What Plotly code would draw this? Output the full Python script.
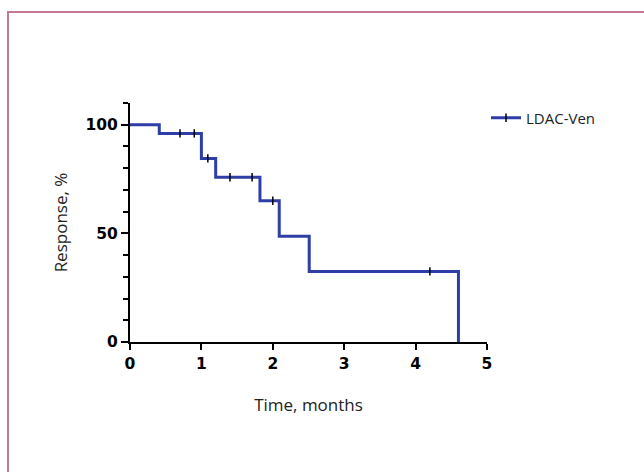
import plotly.graph_objects as go

# Kaplan-Meier step data (time in months, response %)
step_time = [0, 0.41, 1.0, 1.2, 1.82, 2.09, 2.51, 4.6]
step_resp = [100, 96, 84.5, 75.8, 65, 48.7, 32.5, 0]

# censoring marks
cens_time = [0.70, 0.90, 1.09, 1.40, 1.71, 2.0, 4.2]
cens_resp = [96, 96, 84.5, 75.8, 75.8, 65, 32.5]

series_name = "LDAC-Ven"
x_ticks = [0, 1, 2, 3, 4, 5]
y_ticks = [0, 50, 100]

BLUE = "#2F3EA6"
W, H = 644, 472
L, R, T, B = 130, 157, 103, 130
pw, ph = W - L - R, H - T - B

def px2paper_x(px):
    return (px - L) / pw

def px2paper_y(py):
    return (H - B - py) / ph

fig = go.Figure()
fig.add_trace(go.Scatter(
    x=step_time, y=step_resp, mode="lines", line=dict(shape="hv", color=BLUE, width=3),
    showlegend=False, hoverinfo="skip"))
fig.add_trace(go.Scatter(
    x=cens_time, y=cens_resp, mode="markers",
    marker=dict(symbol="line-ns", size=6, line=dict(color="black", width=1.5)),
    showlegend=False))
fig.add_trace(go.Scatter(
    x=[None], y=[None], mode="lines+markers", name=series_name,
    line=dict(color=BLUE, width=3),
    marker=dict(symbol="line-ns", size=6, color="black", line=dict(color="black", width=1.5))))

tickfont = dict(family="DejaVu Sans", size=15.5, color="black", weight="bold")
titlefont = dict(family="Open Sans", size=17, color="#222")
fig.update_xaxes(
    range=[0, 5], tickvals=x_ticks, ticktext=[str(v) for v in x_ticks],
    showline=True, linewidth=2, linecolor="black", ticks="outside", ticklen=6,
    tickwidth=2, tickcolor="black", showgrid=False, zeroline=False,
    tickfont=tickfont,
    title=dict(text="Time, months", font=titlefont, standoff=28))
fig.update_yaxes(
    range=[0, 110], tickvals=y_ticks, ticktext=[str(v) for v in y_ticks],
    showline=True, linewidth=2, linecolor="black", ticks="outside", ticklen=7,
    tickwidth=2, tickcolor="black", showgrid=False, zeroline=False,
    minor=dict(dtick=10, tick0=0, ticks="outside", ticklen=5, tickwidth=2, tickcolor="black"),
    tickfont=tickfont,
    title=dict(text="Response, %", font=titlefont, standoff=14))

border = "#C47A94"
fig.add_shape(type="line", xref="paper", yref="paper",
              x0=px2paper_x(8), x1=px2paper_x(W + 5), y0=px2paper_y(12), y1=px2paper_y(12),
              line=dict(color=border, width=2))
fig.add_shape(type="line", xref="paper", yref="paper",
              x0=px2paper_x(8), x1=px2paper_x(8), y0=px2paper_y(11), y1=px2paper_y(H + 5),
              line=dict(color=border, width=2))

fig.update_layout(
    width=W, height=H, margin=dict(l=L, r=R, t=T, b=B),
    paper_bgcolor="white", plot_bgcolor="white",
    legend=dict(x=px2paper_x(486), y=px2paper_y(118), xanchor="left", yanchor="middle",
                font=dict(family="Open Sans", size=15, color="#222"), bgcolor="rgba(0,0,0,0)"),
)
fig.write_html("out.html")
